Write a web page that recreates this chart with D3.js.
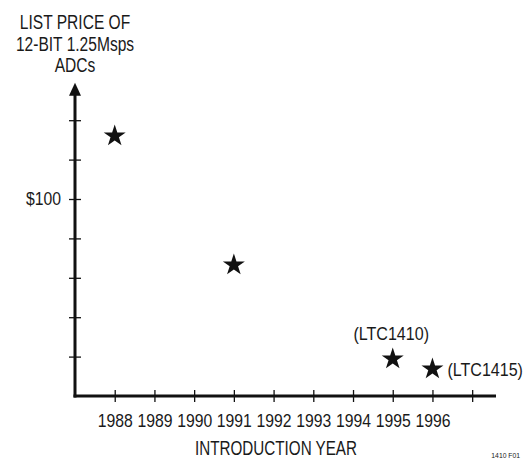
<!DOCTYPE html>
<html>
<head>
<meta charset="utf-8">
<script src="https://cdn.jsdelivr.net/npm/d3@7"></script>
<style>
  html, body { margin: 0; padding: 0; background: #fff; }
  svg { display: block; }
  text { font-family: "Liberation Sans", Arial, sans-serif; fill: #1a1a1a; }
</style>
</head>
<body>
<script>
// ---- data ----
const years = [1988, 1991, 1995, 1996];
const prices = [132, 66.5, 18.8, 13.7];
const pointLabels = ["", "", "(LTC1410)", "(LTC1415)"];
const xTickYears = [1988, 1989, 1990, 1991, 1992, 1993, 1994, 1995, 1996, 1997];
const xTickLabels = ["1988", "1989", "1990", "1991", "1992", "1993", "1994", "1995", "1996", ""];
const yTickValues = [20, 40, 60, 80, 100, 120, 140];
const yTickLabels = ["", "", "", "", "$100", "", ""];
const titleLines = ["LIST PRICE OF", "12-BIT 1.25Msps", "ADCs"];
const xTitle = "INTRODUCTION YEAR";

const W = 529, H = 459;
const svg = d3.select("body").append("svg").attr("width", W).attr("height", H);

const x = d3.scaleLinear().domain([1987, 1997.6]).range([75, 496]);
const y = d3.scaleLinear().domain([0, 100]).range([396, 199]);
const yTop = 159; // arrow tip value
const ink = "#111";

// condensed text: placed by a translate, then squeezed horizontally
function label(parent, tx, ty, str, size, ratio, anchor) {
  return parent.append("text")
    .attr("transform", `translate(${tx},${ty}) scale(${ratio},1)`)
    .attr("text-anchor", anchor).attr("font-size", size).text(str);
}

// Y axis line
svg.append("line")
  .attr("x1", x(1987)).attr("x2", x(1987))
  .attr("y1", y(0) + 1.5).attr("y2", y(yTop) + 8)
  .attr("stroke", ink).attr("stroke-width", 3);
// Arrow head
const ax = x(1987), ay = y(yTop);
svg.append("path")
  .attr("d", `M${ax},${ay} L${ax - 6},${ay + 13} L${ax + 6},${ay + 13} Z`)
  .attr("fill", ink);

// X axis line
svg.append("line")
  .attr("x1", x(1987) - 1.5).attr("x2", x(1997.6))
  .attr("y1", y(0)).attr("y2", y(0))
  .attr("stroke", ink).attr("stroke-width", 3);

// Y ticks
const yr = 0.875;
const yAxis = d3.axisLeft(y).tickValues(yTickValues).tickSize(6).tickPadding(8)
  .tickFormat((d, i) => yTickLabels[i]);
const gy = svg.append("g").attr("transform", `translate(${x(1987)},0)`).call(yAxis);
gy.select(".domain").remove();
gy.selectAll(".tick line").attr("x1", -6).attr("x2", 6).attr("stroke", ink).attr("stroke-width", 1.3);
gy.selectAll(".tick text").attr("font-size", 18).attr("font-family", null).attr("fill", "#1a1a1a")
  .attr("x", -14 / yr).attr("transform", `scale(${yr},1)`);

// X ticks
const xr = 0.875;
const xAxis = d3.axisBottom(x).tickValues(xTickYears).tickSize(6).tickPadding(12)
  .tickFormat((d, i) => xTickLabels[i]);
const gx = svg.append("g").attr("transform", `translate(0,${y(0)})`).call(xAxis);
gx.select(".domain").remove();
gx.selectAll(".tick line").attr("y1", -6).attr("y2", 6).attr("stroke", ink).attr("stroke-width", 1.3);
gx.selectAll(".tick text").attr("font-size", 18).attr("font-family", null).attr("fill", "#1a1a1a")
  .attr("transform", `scale(${xr},1)`);

// X title
label(svg, 276, 455, xTitle, 21, 0.725, "middle");

// Y title (multi-line)
titleLines.forEach((t, i) => label(svg, x(1987), 29 + i * 21.5, t, 20.5, 0.76, "middle"));

// Stars
const star = d3.symbol().type(d3.symbolStar).size(150);
svg.append("g").selectAll("path").data(years).join("path")
  .attr("transform", (d, i) => `translate(${x(d)},${y(prices[i])})`)
  .attr("d", star).attr("fill", ink);

// Point labels
label(svg, x(years[2]) - 1.5, y(prices[2]) - 18.5, pointLabels[2], 19, 0.845, "middle");
label(svg, x(years[3]) + 15, y(prices[3]) + 7, pointLabels[3], 19, 0.845, "start");

// Figure code (at the bottom edge)
label(svg, 520, 458, "1410 F01", 8, 0.85, "end");
</script>
</body>
</html>
